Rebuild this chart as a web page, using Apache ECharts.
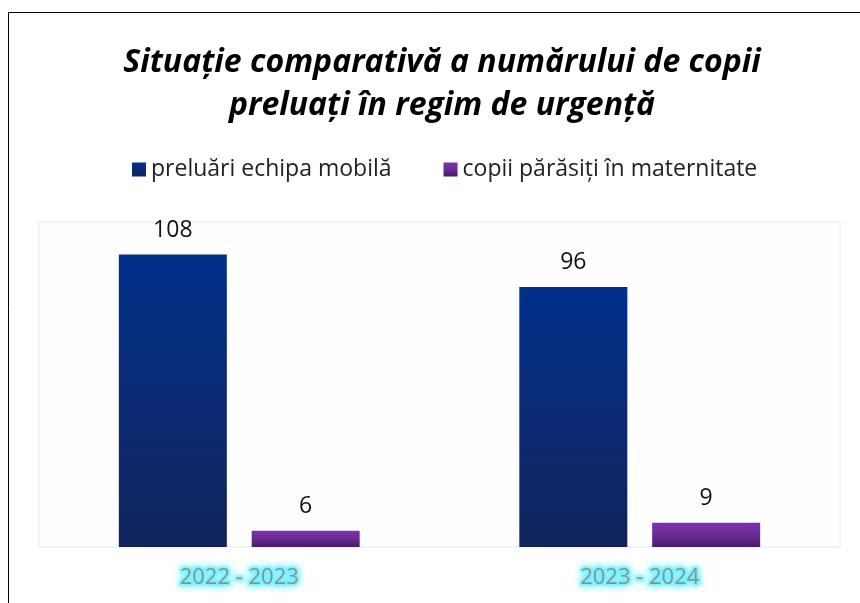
<!DOCTYPE html>
<html>
<head>
<meta charset="utf-8">
<script src="https://cdn.jsdelivr.net/npm/echarts@6/dist/echarts.min.js"></script>
<style>
html, body { margin: 0; padding: 0; background: #fff; }
#chart { width: 860px; height: 603px; }
</style>
</head>
<body>
<div id="chart"></div>
<script>
// date
var perioade = ['2022 - 2023', '2023 - 2024'];
var preluariEchipa = [108, 96];
var copiiParasiti = [6, 9];
var numeSerii = ['preluări echipa mobilă', 'copii părăsiți în maternitate'];

var fontText = '"Open Sans", "Noto Sans", sans-serif';

function gradient(c0, c1, c2) {
	return new echarts.graphic.LinearGradient(0, 0, 0, 1, [ {
		offset : 0,
		color : c0
	}, {
		offset : 0.5,
		color : c1
	}, {
		offset : 1,
		color : c2
	} ]);
}

var chart = echarts.init(document.getElementById('chart'));

var option = {
	backgroundColor : '#ffffff',
	animation : false,
	title : {
		text : 'Situație comparativă a numărului de copii\npreluați în regim de urgență',
		left : 437,
		top : 36,
		textAlign : 'center',
		textStyle : {
			fontFamily : fontText,
			fontSize : 32,
			fontStyle : 'italic',
			fontWeight : 'bold',
			color : '#000',
			lineHeight : 43
		}
	},
	legend : {
		left : 127,
		top : 153,
		itemWidth : 14,
		itemHeight : 14,
		itemGap : 52,
		icon : 'rect',
		textStyle : {
			fontFamily : fontText,
			fontSize : 23,
			color : '#222'
		},
		data : numeSerii
	},
	grid : {
		left : 39,
		right : 20,
		top : 222,
		bottom : 56,
		show : true,
		backgroundColor : '#fefefe',
		borderColor : '#f1f4f9',
		borderWidth : 2
	},
	xAxis : {
		type : 'category',
		data : perioade,
		axisTick : {
			show : false
		},
		axisLine : {
			lineStyle : {
				color : '#f2f2f2',
				width : 2
			}
		},
		axisLabel : {
			margin : 20,
			fontFamily : fontText,
			fontSize : 22,
			color : '#8f8f8f',
			textBorderColor : 'rgba(130,245,255,0.75)',
			textBorderWidth : 4,
			textShadowColor : '#40eeff',
			textShadowBlur : 7
		}
	},
	yAxis : {
		type : 'value',
		min : 0,
		max : 120,
		show : false,
		splitLine : {
			show : false
		}
	},
	series : [ {
		name : numeSerii[0],
		type : 'bar',
		barWidth : 108,
		barGap : '23%',
		data : preluariEchipa,
		itemStyle : {
			color : gradient('#00308a', '#0b2a74', '#10245a')
		},
		label : {
			show : true,
			position : 'top',
			distance : 13,
			fontFamily : fontText,
			fontSize : 23,
			color : '#111'
		}
	}, {
		name : numeSerii[1],
		type : 'bar',
		barWidth : 108,
		data : copiiParasiti,
		itemStyle : {
			color : gradient('#7d33ad', '#6a2a94', '#4a1a66')
		},
		label : {
			show : true,
			position : 'top',
			distance : 13,
			fontFamily : fontText,
			fontSize : 23,
			color : '#111'
		}
	} ],
	graphic : [ {
		type : 'polyline',
		shape : {
			points : [ [ 8.5, 603 ], [ 8.5, 12.5 ], [ 860, 12.5 ] ]
		},
		style : {
			stroke : '#000',
			lineWidth : 1,
			fill : null
		},
		silent : true
	} ]
};

chart.setOption(option);
</script>
</body>
</html>
